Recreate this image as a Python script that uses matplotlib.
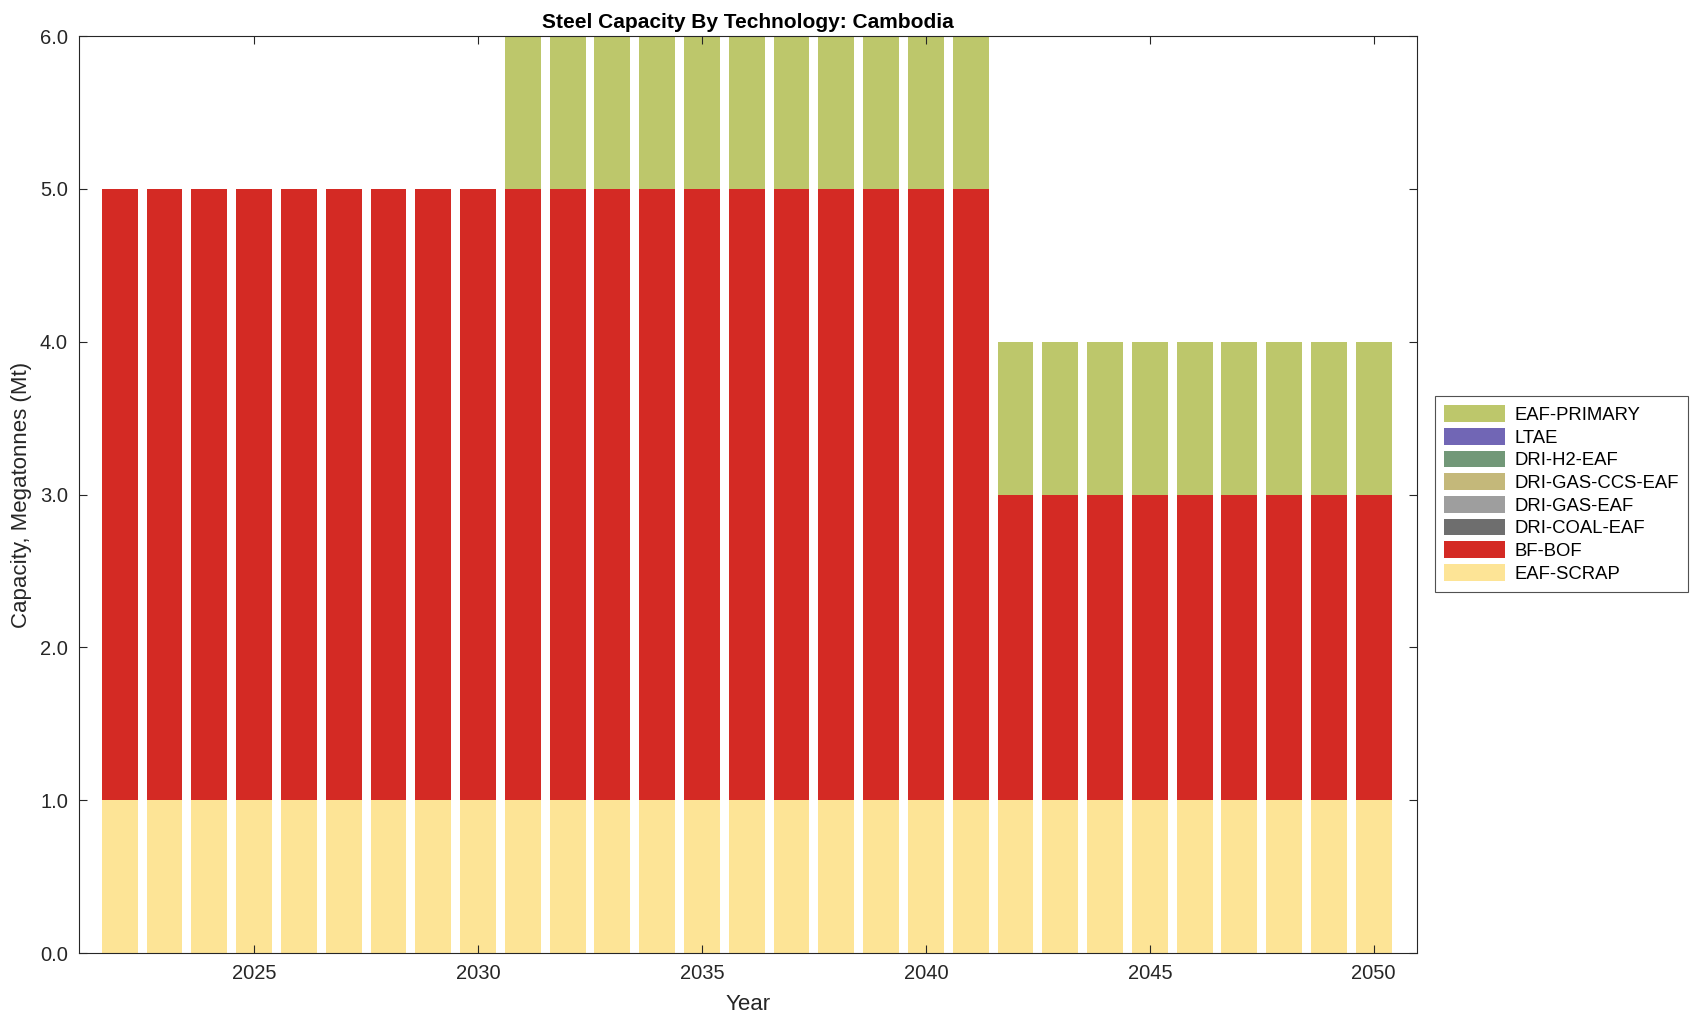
import numpy as np
import matplotlib.pyplot as plt

plt.rcParams["font.family"] = ["Liberation Sans", "DejaVu Sans"]

years = np.arange(2022, 2051)
techs = ["EAF-SCRAP", "BF-BOF", "DRI-COAL-EAF", "DRI-GAS-EAF",
         "DRI-GAS-CCS-EAF", "DRI-H2-EAF", "LTAE", "EAF-PRIMARY"]
colors = ["#fde496", "#d42a24", "#6e6e6e", "#9e9e9e",
          "#c4b87a", "#729878", "#7166b5", "#bdc76b"]

eaf_scrap = [1.0] * 29
bf_bof = [4.0] * 20 + [2.0] * 9
dri_coal = [0.0] * 29
dri_gas = [0.0] * 29
dri_gas_ccs = [0.0] * 29
dri_h2 = [0.0] * 29
ltae = [0.0] * 29
eaf_primary = [0.0] * 9 + [1.0] * 11 + [1.0] * 9

series = [eaf_scrap, bf_bof, dri_coal, dri_gas, dri_gas_ccs, dri_h2, ltae, eaf_primary]

fig = plt.figure(figsize=(16.96, 10.21), dpi=100)
ax = fig.add_axes([0.0466, 0.0666, 0.789, 0.898])

# stacked bars, bottom to top
bottom = np.zeros(len(years))
handles = []
for name, vals, c in zip(techs, series, colors):
    vals = np.array(vals)
    h = ax.bar(years, vals, width=0.8, bottom=bottom, color=c,
               edgecolor="none", label=name)
    handles.append(h)
    bottom += vals

ax.set_xlim(2021.09, 2050.97)
ax.set_ylim(0, 6)
ax.set_yticks(np.arange(0, 7, 1))
ax.set_yticklabels([f"{v:.1f}" for v in np.arange(0, 7, 1)])
ax.set_xticks([2025, 2030, 2035, 2040, 2045, 2050])
ax.tick_params(direction="in", top=True, right=True, labelsize=14.5,
               length=6, width=0.8, colors="#262626", pad=8)
for s in ax.spines.values():
    s.set_linewidth(0.8)
    s.set_color("#262626")

ax.set_xlabel("Year", fontsize=16, color="#262626", labelpad=8)
ax.set_ylabel("Capacity, Megatonnes (Mt)", fontsize=16, color="#262626",
              labelpad=6)
ax.set_title("Steel Capacity By Technology: Cambodia", fontsize=15,
             fontweight="bold", pad=6)

leg = fig.legend(handles[::-1], techs[::-1], loc="upper left",
                 bbox_to_anchor=(0.8405, 0.621), fontsize=13.3,
                 frameon=True, fancybox=False, edgecolor="#262626",
                 handlelength=3.3, handleheight=1.0, labelspacing=0.22,
                 borderpad=0.5, handletextpad=0.5)
leg.get_frame().set_linewidth(0.8)

fig.savefig("out.png", dpi=100)
